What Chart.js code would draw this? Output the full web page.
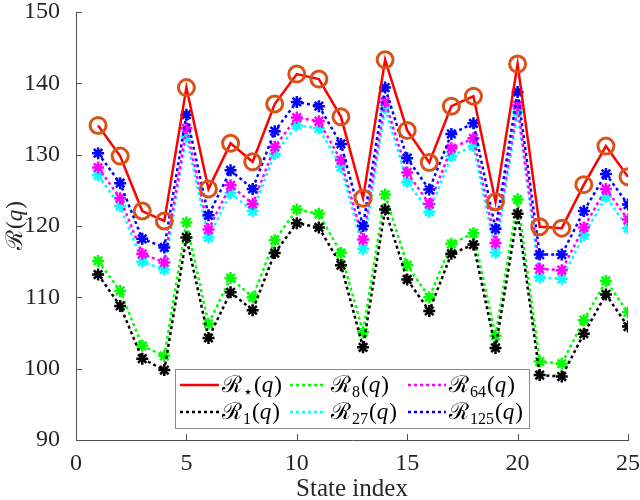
<!DOCTYPE html>
<html>
<head>
<meta charset="utf-8">
<script src="https://cdn.jsdelivr.net/npm/chart.js@4.4.1/dist/chart.umd.min.js"></script>
<style>
  html, body { margin: 0; padding: 0; background: #fff; }
  #chart { display: block; }
</style>
</head>
<body>
<canvas id="chart" width="640" height="500"></canvas>
<script>
// dados
const stateIdx = [1, 2, 3, 4, 5, 6, 7, 8, 9, 10, 11, 12, 13, 14, 15, 16, 17, 18, 19, 20, 21, 22, 23, 24, 25];
const rStar = [134.1, 129.8, 122.1, 120.7, 139.4, 125.2, 131.6, 129.0, 137.1, 141.3, 140.6, 135.3, 123.9, 143.3, 133.4, 128.9, 136.8, 138.2, 123.4, 142.7, 119.9, 119.7, 125.8, 131.2, 126.9];
const r1   = [113.2, 108.8, 101.4, 99.8, 118.4, 104.3, 110.7, 108.2, 116.2, 120.4, 119.8, 114.5, 103.0, 122.3, 112.5, 108.1, 116.1, 117.4, 102.9, 121.7, 99.1, 98.9, 104.9, 110.4, 105.9];
const r8   = [115.1, 110.9, 103.2, 101.8, 120.5, 106.3, 112.7, 110.0, 118.0, 122.3, 121.7, 116.2, 105.1, 124.4, 114.5, 110.0, 117.5, 119.0, 104.6, 123.7, 101.0, 100.7, 106.8, 112.3, 107.9];
const r27  = [127.1, 122.8, 115.0, 113.9, 132.5, 118.4, 124.6, 122.1, 130.1, 134.1, 133.7, 128.3, 116.8, 136.5, 126.2, 122.0, 129.8, 131.2, 116.3, 136.0, 112.8, 112.6, 118.7, 124.1, 119.7];
const r64  = [128.2, 123.9, 116.1, 114.9, 133.7, 119.5, 125.7, 123.1, 131.1, 135.2, 134.7, 129.2, 118.1, 137.4, 127.5, 123.1, 130.9, 132.3, 117.6, 136.9, 114.0, 113.8, 119.8, 125.2, 120.9];
const r125 = [130.2, 126.0, 118.2, 117.0, 135.6, 121.5, 127.8, 125.2, 133.3, 137.4, 136.8, 131.5, 120.0, 139.4, 129.5, 125.1, 132.9, 134.4, 119.6, 138.8, 116.0, 116.0, 122.1, 127.3, 123.0];
const xTicks = [0, 5, 10, 15, 20, 25];
const yTicks = [90, 100, 110, 120, 130, 140, 150];

const SERIF = '"Liberation Serif", "DejaVu Serif", serif';
const AXIS_COLOR = '#505050';
const TEXT_COLOR = '#262626';

function pts(vals) {
    return stateIdx.map((s, i) => ({ x: s, y: vals[i] }));
}

function dottedSeries(label, vals, color) {
    return {
        label: label,
        data: pts(vals),
        borderColor: color,
        backgroundColor: color,
        borderWidth: 2.5,
        borderDash: [3, 3],
        pointStyle: 'star',
        pointRadius: 6,
        pointBorderWidth: 2.5,
        pointBorderColor: color,
        fill: false,
        tension: 0
    };
}

// escreve R com subscrito e (q)
function drawMath(ctx, x, y, sub, size) {
    const big = size + 'px ' + SERIF;
    const small = Math.round(size * 0.68) + 'px ' + SERIF;
    const ital = 'italic ' + size + 'px ' + SERIF;
    ctx.textBaseline = 'alphabetic';
    ctx.textAlign = 'left';
    ctx.font = big;
    ctx.fillText('ℛ', x, y);
    x += ctx.measureText('ℛ').width + 1;
    if (sub) {
        ctx.font = small;
        ctx.fillText(sub, x, y + size * 0.22);
        x += ctx.measureText(sub).width + 1;
    }
    ctx.font = big;
    ctx.fillText('(', x, y);
    x += ctx.measureText('(').width;
    ctx.font = ital;
    ctx.fillText('q', x, y);
    x += ctx.measureText('q').width + 1;
    ctx.font = big;
    ctx.fillText(')', x, y);
}

const legendItems = [
    { sub: '⋆', color: '#ff0000', dash: [], col: 0, row: 0 },
    { sub: '1', color: '#000000', dash: [3, 3], col: 0, row: 1 },
    { sub: '8', color: '#00ff00', dash: [3, 3], col: 1, row: 0 },
    { sub: '27', color: '#00ffff', dash: [3, 3], col: 1, row: 1 },
    { sub: '64', color: '#ff00ff', dash: [3, 3], col: 2, row: 0 },
    { sub: '125', color: '#0000ff', dash: [3, 3], col: 2, row: 1 }
];

const decorPlugin = {
    id: 'decor',
    afterDraw(chart) {
        const ctx = chart.ctx;
        const xs = chart.scales.x;
        const ys = chart.scales.y;
        const area = chart.chartArea;

        // ticks para dentro
        ctx.save();
        ctx.strokeStyle = AXIS_COLOR;
        ctx.lineWidth = 1;
        ctx.beginPath();
        xTicks.forEach(v => {
            const px = Math.round(xs.getPixelForValue(v)) + 0.5;
            ctx.moveTo(px, area.bottom);
            ctx.lineTo(px, area.bottom - 6);
        });
        yTicks.forEach(v => {
            const py = Math.round(ys.getPixelForValue(v)) + 0.5;
            ctx.moveTo(area.left, py);
            ctx.lineTo(area.left + 6, py);
        });
        ctx.stroke();

        // titulo do eixo y
        ctx.save();
        ctx.translate(22, (area.top + area.bottom) / 2 + 24);
        ctx.rotate(-Math.PI / 2);
        ctx.fillStyle = TEXT_COLOR;
        drawMath(ctx, 0, 0, null, 23);
        ctx.restore();

        // legenda
        const bx = 175, by = 369, bw = 354, bh = 59;
        ctx.fillStyle = '#ffffff';
        ctx.fillRect(bx, by, bw, bh);
        ctx.strokeStyle = '#8a8a8a';
        ctx.lineWidth = 1;
        ctx.strokeRect(bx + 0.5, by + 0.5, bw, bh);
        const lineX = [180, 290, 408];
        const lineW = [39, 36, 38];
        const textX = [222, 331, 449];
        const rowY = [385, 412];
        legendItems.forEach(it => {
            const y = rowY[it.row];
            ctx.strokeStyle = it.color;
            ctx.lineWidth = 2.5;
            ctx.setLineDash(it.dash);
            ctx.beginPath();
            ctx.moveTo(lineX[it.col], y);
            ctx.lineTo(lineX[it.col] + lineW[it.col], y);
            ctx.stroke();
            ctx.setLineDash([]);
            ctx.fillStyle = '#000000';
            drawMath(ctx, textX[it.col], y + 7, it.sub, 23);
        });
        ctx.restore();
    }
};

const ctx = document.getElementById('chart');
new Chart(ctx, {
    type: 'line',
    data: {
        datasets: [
            {
                label: 'R*',
                data: pts(rStar),
                borderColor: '#ff0000',
                borderWidth: 2.5,
                pointStyle: 'circle',
                pointRadius: 8,
                pointBorderWidth: 3,
                pointBorderColor: '#d95319',
                pointBackgroundColor: 'rgba(0,0,0,0)',
                fill: false,
                tension: 0
            },
            dottedSeries('R125', r125, '#0000ff'),
            dottedSeries('R64', r64, '#ff00ff'),
            dottedSeries('R27', r27, '#00ffff'),
            dottedSeries('R1', r1, '#000000'),
            dottedSeries('R8', r8, '#00ff00')
        ]
    },
    options: {
        responsive: false,
        animation: false,
        devicePixelRatio: 1,
        layout: { padding: { top: 12, right: 12, left: 0, bottom: 0 } },
        plugins: {
            legend: { display: false },
            tooltip: { enabled: false }
        },
        scales: {
            x: {
                type: 'linear',
                min: 0,
                max: 25,
                afterBuildTicks: axis => { axis.ticks = xTicks.map(v => ({ value: v })); },
                afterFit: axis => {
                    axis.height = 60;
                    axis.paddingLeft = 0;
                    axis.paddingRight = 0;
                },
                grid: { display: false },
                border: { display: true, color: AXIS_COLOR, width: 1 },
                ticks: {
                    font: { family: SERIF, size: 24 },
                    color: TEXT_COLOR,
                    padding: 1,
                    maxRotation: 0
                },
                title: {
                    display: true,
                    text: 'State index',
                    font: { family: SERIF, size: 25, lineHeight: 1 },
                    color: TEXT_COLOR,
                    padding: { top: 0, bottom: -2 }
                }
            },
            y: {
                min: 90,
                max: 150,
                afterBuildTicks: axis => { axis.ticks = yTicks.map(v => ({ value: v })); },
                afterFit: axis => {
                    axis.width = 76;
                    axis.paddingTop = 0;
                    axis.paddingBottom = 0;
                },
                grid: { display: false },
                border: { display: true, color: AXIS_COLOR, width: 1 },
                ticks: {
                    font: { family: SERIF, size: 24 },
                    color: TEXT_COLOR,
                    padding: 8
                }
            }
        }
    },
    plugins: [decorPlugin]
});
</script>
</body>
</html>
